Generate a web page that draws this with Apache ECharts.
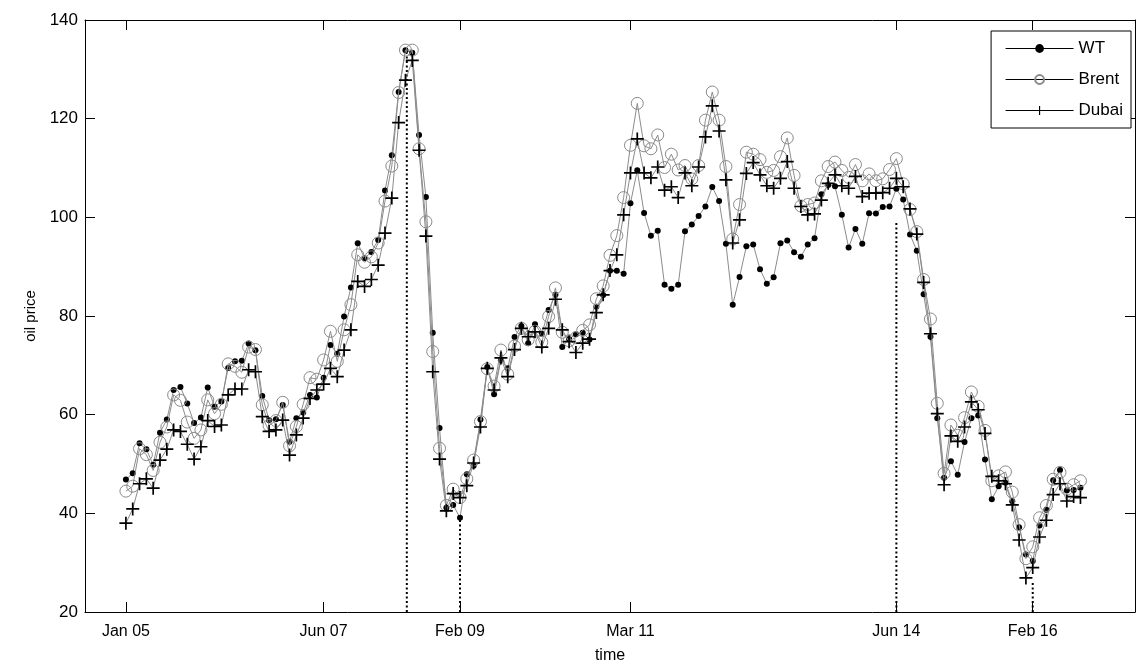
<!DOCTYPE html>
<html><head><meta charset="utf-8">
<script src="https://cdn.jsdelivr.net/npm/echarts@6/dist/echarts.min.js"></script>
<style>html,body{margin:0;padding:0;background:#fff}#c{width:1137px;height:668px}</style>
</head><body><div id="c"></div>
<script>
// Monthly oil prices, Jan 2005 (month 0) .. Sep 2016 (month 140)
const wti = [
46.84,48.15,54.19,52.98,49.83,56.35,59.00,64.99,65.59,62.26,58.32,59.41,
65.49,61.63,62.69,69.44,70.84,70.95,74.41,73.04,63.80,58.89,59.08,61.96,
54.51,59.28,60.44,63.98,63.46,67.49,74.12,72.36,79.92,85.80,94.77,91.69,
92.97,95.39,105.45,112.58,125.40,133.88,133.37,116.67,104.11,76.61,57.31,41.12,
41.71,39.09,47.94,49.65,59.03,69.64,64.15,71.05,69.41,75.72,77.99,74.47,
78.33,76.39,81.20,84.29,73.74,75.34,76.32,76.60,75.24,81.89,84.25,89.15,
89.17,88.58,102.86,109.53,100.90,96.26,97.30,86.33,85.52,86.32,97.16,98.56,
100.27,102.20,106.16,103.32,94.66,82.30,87.90,94.13,94.51,89.49,86.53,87.86,
94.76,95.31,92.94,92.02,94.51,95.77,104.67,106.57,106.29,100.54,93.86,97.63,
94.62,100.82,100.80,102.07,102.18,105.79,103.59,96.54,93.21,84.40,75.79,59.29,
47.22,50.58,47.82,54.45,59.27,59.82,50.90,42.87,45.48,46.22,42.44,37.19,
31.68,30.32,37.55,40.75,46.71,48.76,44.65,44.72,45.18];
const brent = [
44.5,45.5,53.1,51.9,48.7,54.4,57.5,64.0,62.9,58.5,55.2,56.9,
63.0,60.2,62.1,70.3,69.8,68.6,73.7,73.2,62.0,57.8,58.8,62.5,
53.7,57.6,62.1,67.5,67.2,71.1,76.9,70.8,77.2,82.3,92.4,90.9,
92.0,94.8,103.3,110.4,125.3,133.9,133.9,113.9,99.1,72.8,53.2,41.6,
44.9,43.2,47.0,50.8,58.6,69.3,65.8,73.1,68.2,73.9,77.5,75.2,
76.9,74.7,79.9,85.7,76.7,75.0,75.6,77.1,78.2,83.5,86.1,92.3,
96.3,104.0,114.6,123.1,114.5,113.9,116.7,110.1,112.8,109.6,110.5,107.8,
110.5,119.7,125.4,119.7,110.3,95.6,102.6,113.2,112.8,111.7,109.1,109.5,
112.3,116.1,108.5,102.3,102.6,102.9,107.4,110.3,111.2,109.5,108.1,110.7,
107.4,108.8,107.4,107.8,109.7,111.9,106.8,101.6,97.1,87.4,79.4,62.3,
48.1,57.9,55.8,59.4,64.6,61.7,56.8,46.6,47.6,48.4,44.3,37.7,
30.8,33.2,39.1,41.6,46.9,48.3,44.9,45.8,46.6];
const dubai = [
38.0,40.9,46.0,47.0,45.1,50.8,53.0,56.9,56.6,54.0,51.0,53.5,
58.8,57.6,57.9,64.0,65.2,65.2,69.1,68.7,59.6,56.6,56.9,58.9,
51.8,55.9,59.3,63.3,65.0,66.2,69.4,67.7,73.1,77.2,87.0,86.0,
87.4,90.3,96.8,103.9,119.2,127.8,131.8,113.6,96.2,68.7,51.0,40.5,
44.0,43.2,45.6,50.2,57.5,69.4,65.0,71.5,67.7,73.2,77.5,75.8,
76.8,73.7,77.5,83.4,77.2,74.8,72.6,74.5,75.3,80.7,84.3,89.2,
92.4,100.5,109.0,115.9,109.0,108.0,110.2,105.5,106.2,104.0,109.0,106.4,
110.2,116.3,122.6,117.5,107.6,94.8,99.5,108.9,111.1,108.6,106.4,105.9,
107.9,111.3,105.9,102.2,100.5,100.7,103.5,106.9,108.6,106.4,105.9,108.3,
104.2,104.9,104.9,105.0,105.9,107.9,106.2,101.7,96.6,86.8,76.4,60.2,
45.8,55.7,54.6,57.5,62.6,61.0,56.2,47.5,46.6,46.0,41.7,34.6,
26.9,29.0,35.2,38.6,43.8,46.0,42.5,43.4,43.2];
const seriesNames = ['WT','Brent','Dubai'];
const tickMonths = [0,29,49,74,113,133];
const tickLabels = ['Jan 05','Jun 07','Feb 09','Mar 11','Jun 14','Feb 16'];
const breakMonths = [41.2,49,113,133];
const breakTops = [134,39,99,26];

const chart = echarts.init(document.getElementById('c'));
const FONT = 'Liberation Sans, Arial, sans-serif';
const plus = 'path://M4.35,0H5.65V4.35H10V5.65H5.65V10H4.35V5.65H0V4.35H4.35Z';
const toXY = arr => arr.map((v,i)=>[i,v]);

const breakSeries = breakMonths.map((m,k)=>({
  type:'line', silent:true, symbol:'none', z:1,
  data:[[m,20],[m,breakTops[k]]],
  lineStyle:{color:'#000',width:2,type:[2,2.5]}
}));

chart.setOption({
  backgroundColor:'#fff',
  animation:false,
  grid:{left:85,right:2,top:20,bottom:56,outerBoundsMode:'none'},
  legend:{
    data:seriesNames, orient:'vertical', right:6, top:31,
    itemWidth:68, itemHeight:11, itemGap:14,
    padding:[9,8,9,14],
    borderColor:'#000', borderWidth:1, backgroundColor:'#fff',
    textStyle:{fontFamily:FONT,fontSize:17,color:'#000'},
    lineStyle:{color:'#000',width:1}
  },
  xAxis:[{
    type:'value', min:-6, max:148,
    axisLine:{onZero:false,lineStyle:{color:'#000',width:1}},
    axisTick:{inside:true,length:10,customValues:tickMonths,lineStyle:{color:'#000'}},
    axisLabel:{customValues:tickMonths,formatter:v=>tickLabels[tickMonths.indexOf(v)],
      color:'#000',fontFamily:FONT,fontSize:16,margin:12},
    splitLine:{show:false},
    name:'time', nameLocation:'middle', nameGap:36,
    nameTextStyle:{color:'#000',fontFamily:FONT,fontSize:16}
  },{
    type:'value', min:-6, max:148, position:'top',
    axisLine:{onZero:false,lineStyle:{color:'#000',width:1}},
    axisTick:{inside:true,length:10,customValues:tickMonths,lineStyle:{color:'#000'}},
    axisLabel:{show:false}, splitLine:{show:false}
  }],
  yAxis:[{
    type:'value', min:20, max:140, interval:20,
    axisLine:{show:true,onZero:false,lineStyle:{color:'#000',width:1}},
    axisTick:{show:true,inside:true,length:10,lineStyle:{color:'#000'}},
    axisLabel:{color:'#000',fontFamily:FONT,fontSize:17,margin:7},
    splitLine:{show:false},
    name:'oil price', nameLocation:'middle', nameGap:47, nameRotate:90,
    nameTextStyle:{color:'#000',fontFamily:FONT,fontSize:15}
  },{
    type:'value', min:20, max:140, interval:20, position:'right',
    axisLine:{show:true,onZero:false,lineStyle:{color:'#000',width:1}},
    axisTick:{show:true,inside:true,length:10,lineStyle:{color:'#000'}},
    axisLabel:{show:false}, splitLine:{show:false}
  }],
  series:[
    {name:'WT', type:'line', data:toXY(wti), symbol:'circle', symbolSize:6,
     lineStyle:{color:'#8c8c8c',width:1}, itemStyle:{color:'#000'}, z:2},
    {name:'Brent', type:'line', data:toXY(brent), symbol:'circle', symbolSize:12,
     lineStyle:{color:'#8c8c8c',width:1},
     itemStyle:{color:'rgba(255,255,255,0)',borderColor:'#8a8a8a',borderWidth:1}, z:3},
    {name:'Dubai', type:'line', data:toXY(dubai), symbol:plus, symbolSize:13,
     lineStyle:{color:'#8c8c8c',width:1}, itemStyle:{color:'#000'}, z:4},
    ...breakSeries
  ]
});
</script></body></html>
